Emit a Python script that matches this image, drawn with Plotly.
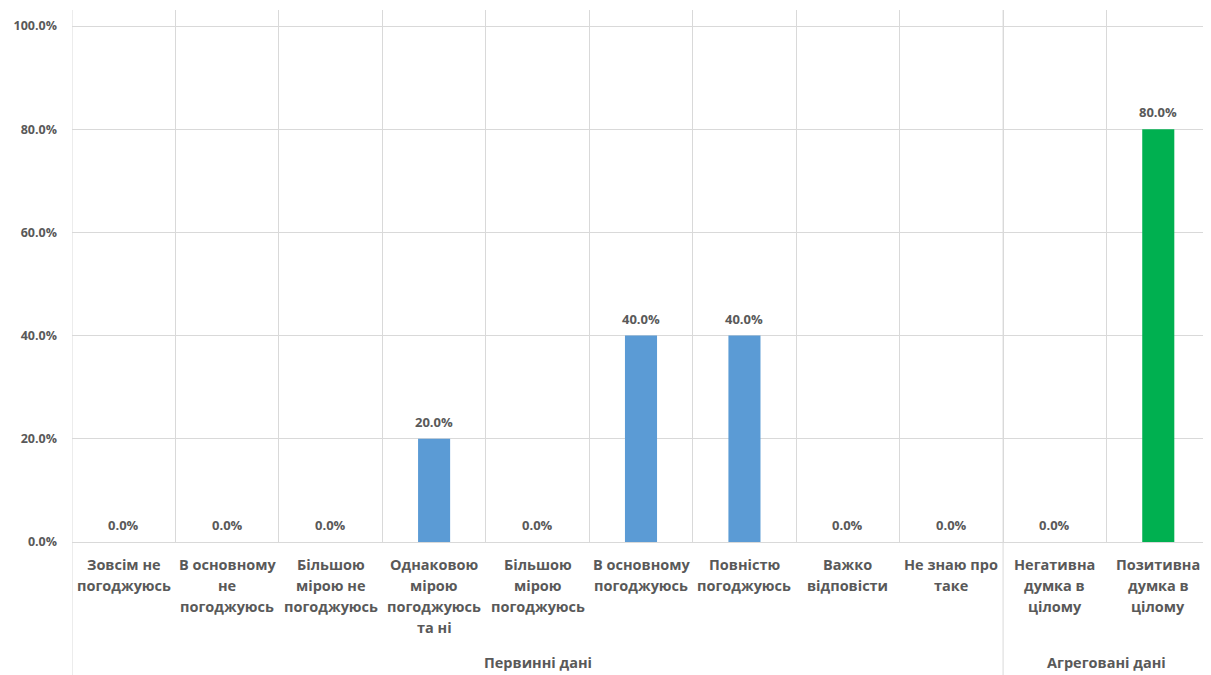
import plotly.graph_objects as go

groups = ["Первинні дані"] * 9 + ["Агреговані дані"] * 2
categories = [
    "Зовсім не погоджуюсь",
    "В основному не погоджуюсь",
    "Більшою мірою не погоджуюсь",
    "Однаковою мірою погоджуюсь та ні",
    "Більшою мірою погоджуюсь",
    "В основному погоджуюсь",
    "Повністю погоджуюсь",
    "Важко відповісти",
    "Не знаю про таке",
    "Негативна думка в цілому",
    "Позитивна думка в цілому",
]
category_lines = [
    ["Зовсім не", "погоджуюсь"],
    ["В основному", "не", "погоджуюсь"],
    ["Більшою", "мірою не", "погоджуюсь"],
    ["Однаковою", "мірою", "погоджуюсь", "та ні"],
    ["Більшою", "мірою", "погоджуюсь"],
    ["В основному", "погоджуюсь"],
    ["Повністю", "погоджуюсь"],
    ["Важко", "відповісти"],
    ["Не знаю про", "таке"],
    ["Негативна", "думка в", "цілому"],
    ["Позитивна", "думка в", "цілому"],
]
values = [0.0, 0.0, 0.0, 0.2, 0.0, 0.4, 0.4, 0.0, 0.0, 0.0, 0.8]
bar_colors = ["#5B9BD5"] * 9 + ["#00B050"] * 2
y_ticks = [0, 0.2, 0.4, 0.6, 0.8, 1.0]

text_color = "#595959"
grid_color = "#D9D9D9"
font_family = "Open Sans, Liberation Sans, sans-serif"

fig = go.Figure(
    go.Bar(
        x=categories,
        y=values,
        marker=dict(color=bar_colors, line=dict(width=0)),
        width=0.31,
        hoverinfo="x+y",
    )
)

annotations = []
# data labels
for cat, v in zip(categories, values):
    annotations.append(dict(
        x=cat, y=v, xref="x", yref="y", text=f"{v*100:.1f}%", showarrow=False,
        yanchor="middle", yshift=17,
        font=dict(family=font_family, size=13, color=text_color, weight="bold"),
    ))
# category labels (line by line)
line_gap = 21.3
for cat, lines in zip(categories, category_lines):
    for i, ln in enumerate(lines):
        annotations.append(dict(
            x=cat, y=0, xref="x", yref="paper", text=ln, showarrow=False,
            yanchor="middle", yshift=-(22 + i * line_gap),
            font=dict(family=font_family, size=14.5, color=text_color, weight="bold"),
        ))
# group labels, centered on their categories
group_names = list(dict.fromkeys(groups))
for g in group_names:
    idx = [i for i, gg in enumerate(groups) if gg == g]
    center = (idx[0] + idx[-1]) / 2
    annotations.append(dict(
        x=center, y=0, xref="x", yref="paper", text=g, showarrow=False,
        yanchor="middle", yshift=-120,
        font=dict(family=font_family, size=14.5, color=text_color, weight="bold"),
    ))

# group dividers extending through the label area
shapes = []
boundaries = [-0.5] + [i + 0.5 for i in range(len(groups) - 1) if groups[i] != groups[i + 1]] + [len(groups) - 0.5]
for b in boundaries:
    shapes.append(dict(type="line", xref="x", yref="paper", x0=b, x1=b, y0=-0.25, y1=1,
                       line=dict(color=grid_color, width=1), layer="below"))

# The page body has an 8px default margin, so the figure is offset by 8px.
fig.update_layout(
    width=1203,
    height=667,
    margin=dict(l=64, r=1, t=2, b=133),
    paper_bgcolor="white",
    plot_bgcolor="white",
    showlegend=False,
    font=dict(family=font_family, color=text_color),
    annotations=annotations,
    shapes=shapes,
    xaxis=dict(
        type="category",
        range=[-0.5, len(categories) - 0.5],
        tickson="boundaries",
        showgrid=True,
        gridcolor=grid_color,
        gridwidth=1,
        showline=False,
        ticks="",
        showticklabels=False,
        zeroline=False,
        automargin=False,
    ),
    yaxis=dict(
        range=[0, 1.031],
        tickvals=y_ticks,
        tickformat=".1%",
        showgrid=True,
        gridcolor=grid_color,
        gridwidth=1,
        zeroline=True,
        zerolinecolor=grid_color,
        zerolinewidth=1,
        showline=False,
        ticks="",
        ticklabelstandoff=14,
        automargin=False,
        tickfont=dict(family=font_family, size=12.5, color=text_color, weight="bold"),
    ),
)

fig.write_html("out.html")
